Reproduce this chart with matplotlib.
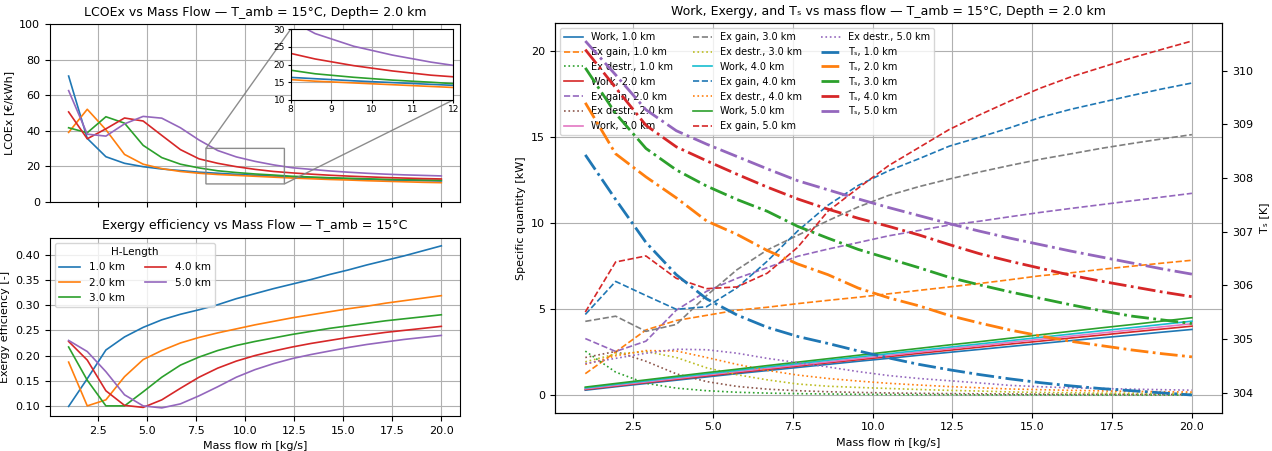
import numpy as np
import matplotlib
matplotlib.use("Agg")
import matplotlib.pyplot as plt

# ---------------------------------- DATA ----------------------------------- #
mdot = [1.0, 1.95, 2.9, 3.85, 4.8, 5.75, 6.7, 7.65, 8.6, 9.55, 10.5,
        11.45, 12.4, 13.35, 14.3, 15.25, 16.2, 17.15, 18.1, 19.05, 20.0]
lengths = ["1.0 km", "2.0 km", "3.0 km", "4.0 km", "5.0 km"]

# LCOEx [EUR/kWh] per H-length
lcoex_1 = [70.7, 35.6, 25.3, 21.6, 19.7, 18.4, 17.5, 16.6, 16.0, 15.4, 14.9,
           14.4, 13.9, 13.5, 13.1, 12.8, 12.5, 12.2, 12.0, 11.8, 11.6]
lcoex_2 = [39.0, 52.0, 40.5, 26.6, 21.1, 18.6, 17.0, 16.0, 15.3, 14.8, 14.3,
           13.8, 13.3, 12.9, 12.5, 12.2, 11.8, 11.5, 11.2, 10.9, 10.7]
lcoex_3 = [41.6, 38.8, 47.8, 44.2, 31.7, 24.8, 21.1, 19.0, 17.4, 16.4, 15.6,
           15.0, 14.3, 13.9, 13.5, 13.2, 12.9, 12.6, 12.4, 12.2, 12.1]
lcoex_4 = [50.5, 35.4, 41.0, 47.1, 45.4, 37.3, 29.3, 24.1, 21.6, 19.7, 18.2,
           17.0, 16.2, 15.5, 14.9, 14.4, 14.0, 13.6, 13.3, 13.0, 12.8]
lcoex_5 = [62.5, 38.0, 36.9, 43.8, 48.0, 47.0, 41.6, 34.7, 28.8, 25.2, 22.7,
           20.7, 19.1, 18.2, 17.3, 16.6, 16.0, 15.5, 15.1, 14.8, 14.5]

# exergy efficiency [-] per H-length
eff_1 = [0.099, 0.154, 0.211, 0.237, 0.256, 0.271, 0.282, 0.291, 0.301, 0.313, 0.323,
         0.333, 0.342, 0.351, 0.361, 0.370, 0.380, 0.389, 0.398, 0.408, 0.418]
eff_2 = [0.187, 0.100, 0.112, 0.158, 0.192, 0.210, 0.225, 0.236, 0.245, 0.253, 0.261,
         0.268, 0.275, 0.281, 0.287, 0.293, 0.298, 0.304, 0.309, 0.314, 0.319]
eff_3 = [0.217, 0.151, 0.100, 0.100, 0.128, 0.157, 0.181, 0.197, 0.210, 0.220, 0.228,
         0.235, 0.242, 0.248, 0.254, 0.259, 0.264, 0.269, 0.273, 0.277, 0.281]
eff_4 = [0.228, 0.191, 0.130, 0.101, 0.097, 0.112, 0.135, 0.157, 0.175, 0.189, 0.200,
         0.209, 0.217, 0.224, 0.230, 0.236, 0.241, 0.246, 0.250, 0.254, 0.258]
eff_5 = [0.230, 0.208, 0.168, 0.122, 0.100, 0.096, 0.104, 0.120, 0.138, 0.157, 0.172,
         0.184, 0.194, 0.202, 0.209, 0.216, 0.222, 0.227, 0.232, 0.236, 0.240]

# specific work [kW]
work_1 = [0.30, 0.50, 0.69, 0.88, 1.07, 1.26, 1.44, 1.62, 1.80, 1.98, 2.15,
          2.33, 2.50, 2.67, 2.84, 3.01, 3.18, 3.34, 3.50, 3.67, 3.83]
work_2 = [0.34, 0.54, 0.74, 0.93, 1.13, 1.32, 1.51, 1.70, 1.89, 2.07, 2.25,
          2.44, 2.62, 2.80, 2.98, 3.15, 3.33, 3.50, 3.68, 3.85, 4.02]
work_3 = [0.38, 0.58, 0.78, 0.98, 1.18, 1.38, 1.57, 1.76, 1.95, 2.14, 2.33,
          2.52, 2.71, 2.89, 3.08, 3.26, 3.44, 3.62, 3.80, 3.98, 4.16]
work_4 = [0.43, 0.64, 0.84, 1.05, 1.25, 1.45, 1.65, 1.84, 2.04, 2.23, 2.42,
          2.61, 2.80, 2.99, 3.18, 3.37, 3.56, 3.75, 3.93, 4.12, 4.31]
work_5 = [0.48, 0.69, 0.90, 1.11, 1.32, 1.52, 1.73, 1.93, 2.13, 2.33, 2.53,
          2.73, 2.93, 3.12, 3.32, 3.52, 3.72, 3.92, 4.11, 4.31, 4.51]

# exergy gain [kW]
exgain_1 = [1.26, 2.52, 3.80, 4.35, 4.65, 4.95, 5.12, 5.33, 5.52, 5.70, 5.90,
            6.10, 6.30, 6.50, 6.72, 6.95, 7.12, 7.32, 7.50, 7.68, 7.85]
exgain_2 = [3.30, 2.55, 3.15, 4.95, 6.05, 6.80, 7.42, 8.08, 8.50, 8.88, 9.27,
            9.58, 9.90, 10.12, 10.38, 10.63, 10.86, 11.08, 11.30, 11.52, 11.74]
exgain_3 = [4.30, 4.60, 3.72, 4.12, 5.80, 7.30, 8.45, 9.30, 10.15, 10.95, 11.62,
            12.13, 12.57, 12.98, 13.36, 13.72, 14.03, 14.35, 14.63, 14.90, 15.15]
exgain_4 = [4.70, 6.62, 5.80, 5.00, 5.15, 6.25, 7.80, 9.55, 11.05, 12.20, 13.05,
            13.75, 14.48, 15.00, 15.55, 16.15, 16.62, 17.02, 17.42, 17.80, 18.15]
exgain_5 = [4.84, 7.75, 8.10, 6.80, 6.20, 6.30, 7.10, 8.60, 10.70, 12.05, 13.35,
            14.40, 15.45, 16.30, 17.10, 17.85, 18.50, 19.05, 19.60, 20.10, 20.59]

# exergy destruction [kW]
exdestr_1 = [2.57, 1.35, 0.70, 0.42, 0.27, 0.18, 0.13, 0.10, 0.08, 0.06, 0.05,
             0.04, 0.04, 0.03, 0.03, 0.03, 0.02, 0.02, 0.02, 0.02, 0.02]
exdestr_2 = [2.20, 2.55, 1.98, 1.25, 0.80, 0.52, 0.36, 0.27, 0.21, 0.17, 0.14,
             0.12, 0.10, 0.09, 0.08, 0.07, 0.06, 0.06, 0.05, 0.05, 0.05]
exdestr_3 = [1.95, 2.40, 2.55, 2.20, 1.60, 1.20, 0.90, 0.66, 0.53, 0.46, 0.40,
             0.34, 0.29, 0.25, 0.20, 0.17, 0.15, 0.13, 0.12, 0.11, 0.10]
exdestr_4 = [1.80, 2.30, 2.60, 2.58, 2.20, 1.80, 1.45, 1.18, 0.98, 0.83, 0.70,
             0.60, 0.51, 0.44, 0.37, 0.33, 0.29, 0.26, 0.23, 0.21, 0.19]
exdestr_5 = [1.85, 2.15, 2.45, 2.68, 2.65, 2.45, 2.15, 1.90, 1.65, 1.38, 1.15,
             0.98, 0.85, 0.72, 0.58, 0.50, 0.44, 0.40, 0.36, 0.33, 0.30]

# T_s [K]
ts_1 = [308.43, 307.60, 306.80, 306.20, 305.75, 305.45, 305.22, 305.05, 304.92, 304.78, 304.65,
        304.53, 304.43, 304.34, 304.26, 304.19, 304.13, 304.08, 304.04, 304.00, 303.96]
ts_2 = [309.40, 308.45, 308.02, 307.63, 307.20, 306.95, 306.65, 306.40, 306.20, 305.95, 305.77,
        305.62, 305.44, 305.30, 305.17, 305.06, 304.96, 304.88, 304.80, 304.73, 304.67]
ts_3 = [310.05, 309.20, 308.55, 308.15, 307.85, 307.60, 307.38, 307.10, 306.88, 306.67, 306.50,
        306.33, 306.15, 306.01, 305.88, 305.76, 305.64, 305.53, 305.43, 305.36, 305.29]
ts_4 = [310.39, 309.68, 308.98, 308.58, 308.32, 308.07, 307.83, 307.61, 307.42, 307.25, 307.10,
        306.94, 306.76, 306.59, 306.45, 306.32, 306.19, 306.08, 305.98, 305.88, 305.79]
ts_5 = [310.55, 309.92, 309.27, 308.88, 308.63, 308.40, 308.17, 307.95, 307.78, 307.61, 307.45,
        307.30, 307.15, 307.01, 306.88, 306.76, 306.64, 306.53, 306.42, 306.31, 306.21]

lcoex = [lcoex_1, lcoex_2, lcoex_3, lcoex_4, lcoex_5]
eff = [eff_1, eff_2, eff_3, eff_4, eff_5]
work = [work_1, work_2, work_3, work_4, work_5]
exgain = [exgain_1, exgain_2, exgain_3, exgain_4, exgain_5]
exdestr = [exdestr_1, exdestr_2, exdestr_3, exdestr_4, exdestr_5]
ts = [ts_1, ts_2, ts_3, ts_4, ts_5]

# --------------------------------- FIGURE ---------------------------------- #
fig = plt.figure(figsize=(12.72, 4.51), dpi=100)
ax_lc = fig.add_axes([0.0393, 0.5528, 0.3223, 0.394])
ax_ef = fig.add_axes([0.0393, 0.0776, 0.3223, 0.3953], sharex=ax_lc)
ax_w = fig.add_axes([0.4363, 0.0849, 0.5246, 0.8634])

# LCOEx
for i in range(5):
    ax_lc.plot(mdot, lcoex[i], lw=1.2, label=lengths[i])
ax_lc.set_ylim(0, 100)
ax_lc.set_ylabel("LCOEx [€/kWh]", fontsize=8)
ax_lc.set_title("LCOEx vs Mass Flow — T_amb = 15°C, Depth= 2.0 km", fontsize=9)
ax_lc.tick_params(labelsize=8)
ax_lc.tick_params(axis="x", labelbottom=False)
ax_lc.grid(True)

ins = ax_lc.inset_axes([0.587, 0.573, 0.397, 0.397])
for i in range(5):
    ins.plot(mdot, lcoex[i], lw=1.2)
ins.set_xlim(8, 12)
ins.set_ylim(10, 30)
ins.set_xticks([8, 9, 10, 11, 12])
ins.set_yticks([10, 15, 20, 25, 30])
ins.tick_params(labelsize=6.5, pad=1.5, length=2.5)
ins.grid(True)
ax_lc.indicate_inset_zoom(ins, edgecolor="gray", alpha=0.9)

# exergy efficiency
for i in range(5):
    ax_ef.plot(mdot, eff[i], lw=1.2, label=lengths[i])
ax_ef.set_xlabel("Mass flow ṁ [kg/s]", fontsize=8)
ax_ef.set_ylabel("Exergy efficiency [-]", fontsize=8)
ax_ef.set_title("Exergy efficiency vs Mass Flow — T_amb = 15°C", fontsize=9)
ax_ef.tick_params(labelsize=8)
ax_ef.grid(True)
ax_ef.legend(title="H-Length", ncol=2, fontsize=7.5, title_fontsize=7.5, loc="upper left")

# work / exergy / Ts
handles = []
for i in range(5):
    km = lengths[i]
    h1, = ax_w.plot(mdot, work[i], "-", lw=1.2, label=f"Work, {km}")
    h2, = ax_w.plot(mdot, exgain[i], "--", lw=1.2, label=f"Ex gain, {km}")
    h3, = ax_w.plot(mdot, exdestr[i], ":", lw=1.2, label=f"Ex destr., {km}")
    handles += [h1, h2, h3]
ax_w.set_xlabel("Mass flow ṁ [kg/s]", fontsize=8)
ax_w.set_ylabel("Specific quantity [kW]", fontsize=8)
ax_w.set_title("Work, Exergy, and Tₛ vs mass flow — T_amb = 15°C, Depth = 2.0 km", fontsize=9)
ax_w.tick_params(labelsize=8)
ax_w.grid(True)

ax_t = ax_w.twinx()
for i in range(5):
    h, = ax_t.plot(mdot, ts[i], "-.", lw=2, color=f"C{i}", label=f"Tₛ, {lengths[i]}")
    handles.append(h)
ax_t.set_ylabel("Tₛ [K]", fontsize=8)
ax_t.tick_params(labelsize=8)

ax_w.legend(handles=handles, labels=[h.get_label() for h in handles],
            ncol=3, fontsize=7, loc="upper left")

fig.savefig("out.png", dpi=100)
